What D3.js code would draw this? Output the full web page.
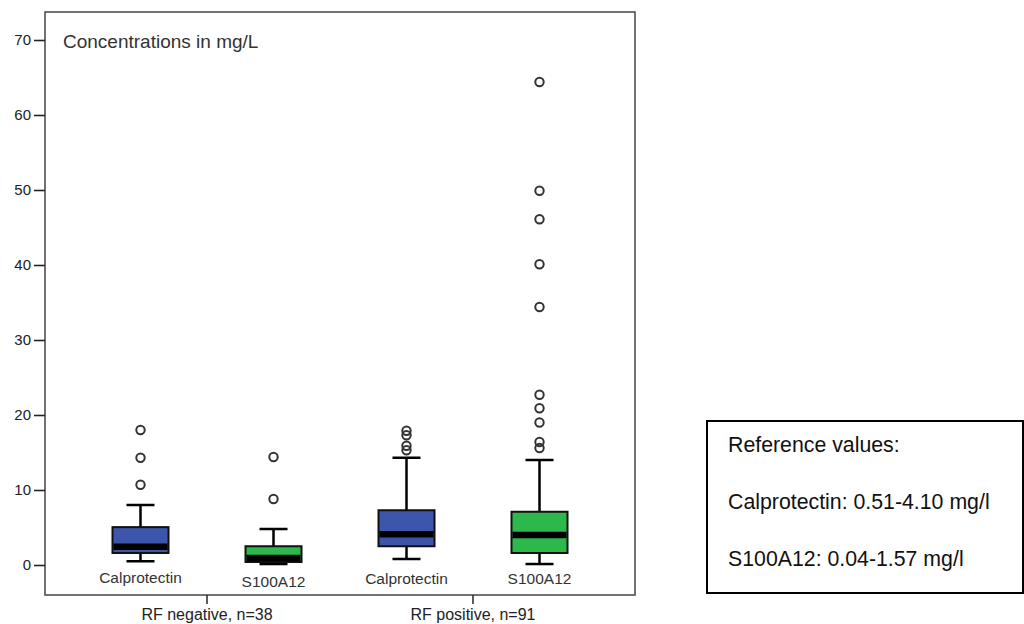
<!DOCTYPE html>
<html>
<head>
<meta charset="utf-8">
<script src="https://cdn.jsdelivr.net/npm/d3@7"></script>
<style>
  html, body { margin: 0; padding: 0; background: #fff; }
  svg { display: block; font-family: "Liberation Sans", Arial, sans-serif; }
</style>
</head>
<body>
<svg id="chart" width="1024" height="624"></svg>
<script>
// ---- data (mg/L) ----
const groups = ["RF negative, n=38", "RF positive, n=91"];
const markers = ["Calprotectin", "S100A12"];
const boxGroup   = ["RF negative, n=38", "RF negative, n=38", "RF positive, n=91", "RF positive, n=91"];
const boxMarker  = ["Calprotectin", "S100A12", "Calprotectin", "S100A12"];
const whiskerLow = [0.5, 0.13, 0.8, 0.13];
const q1         = [1.6, 0.4, 2.5, 1.6];
const median     = [2.45, 0.95, 4.1, 4.0];
const q3         = [5.05, 2.5, 7.3, 7.1];
const whiskerHigh= [8.0, 4.8, 14.3, 14.0];
const outliers = [
  [18.0, 14.3, 10.7],
  [14.4, 8.8],
  [17.9, 17.3, 15.9, 15.3],
  [64.4, 49.9, 46.1, 40.1, 34.4, 22.7, 20.9, 19.0, 16.4, 15.6]
];
const yTicks = [0, 10, 20, 30, 40, 50, 60, 70];
const title = "Concentrations in mg/L";
const refLines = ["Reference values:", "Calprotectin: 0.51-4.10 mg/l", "S100A12: 0.04-1.57 mg/l"];
const colors = { "Calprotectin": "#3b56aa", "S100A12": "#2cb84b" };

// ---- layout ----
const svg = d3.select("#chart");
const frame = { left: 45, top: 12, right: 635, bottom: 595 };

const y = d3.scaleLinear().domain([0, 70]).range([565, 40]);
const xOuter = d3.scaleBand().domain(groups).range([74, 606]);
const xInner = d3.scalePoint().domain(markers).range([0, xOuter.bandwidth()]).padding(0.5);
const cx = i => xOuter(boxGroup[i]) + xInner(boxMarker[i]);
const boxW = 56, capW = 28;

// frame
svg.append("rect")
  .attr("x", frame.left).attr("y", frame.top)
  .attr("width", frame.right - frame.left).attr("height", frame.bottom - frame.top)
  .attr("fill", "#fff").attr("stroke", "#444").attr("stroke-width", 1.5);

// y axis
const yAxis = svg.append("g")
  .attr("transform", `translate(${frame.left},0)`)
  .call(d3.axisLeft(y).tickValues(yTicks).tickSize(11).tickPadding(3).tickFormat(d3.format("d")));
yAxis.select(".domain").remove();
yAxis.selectAll(".tick line").attr("stroke", "#222").attr("stroke-width", 1.6);
yAxis.selectAll(".tick text").attr("fill", "#222").style("font-size", "15px")
  .style("font-family", "'Liberation Sans', Arial, sans-serif");

// x axis (group ticks)
const xAxis = svg.append("g")
  .attr("transform", `translate(0,${frame.bottom})`)
  .call(d3.axisBottom(xOuter).tickSize(9).tickPadding(5));
xAxis.select(".domain").remove();
xAxis.selectAll(".tick line").attr("stroke", "#333").attr("stroke-width", 1.6);
xAxis.selectAll(".tick text").attr("fill", "#222").style("font-size", "16px")
  .style("font-family", "'Liberation Sans', Arial, sans-serif");

// title inside plot
svg.append("text").attr("x", 63).attr("y", 48)
  .attr("fill", "#333").style("font-size", "19px").text(title);

// boxes
const idx = d3.range(boxGroup.length);
const g = svg.append("g");
idx.forEach(i => {
  const c = cx(i);
  g.append("line").attr("x1", c).attr("x2", c)
    .attr("y1", y(whiskerLow[i])).attr("y2", y(whiskerHigh[i]))
    .attr("stroke", "#000").attr("stroke-width", 2.5);
  [whiskerLow[i], whiskerHigh[i]].forEach(v => {
    g.append("line").attr("x1", c - capW / 2).attr("x2", c + capW / 2)
      .attr("y1", y(v)).attr("y2", y(v))
      .attr("stroke", "#000").attr("stroke-width", 2.5);
  });
  g.append("rect").attr("x", c - boxW / 2).attr("y", y(q3[i]))
    .attr("width", boxW).attr("height", y(q1[i]) - y(q3[i]))
    .attr("fill", colors[boxMarker[i]]).attr("stroke", "#111").attr("stroke-width", 2);
  g.append("line").attr("x1", c - boxW / 2 + 1).attr("x2", c + boxW / 2 - 1)
    .attr("y1", y(median[i])).attr("y2", y(median[i]))
    .attr("stroke", "#000").attr("stroke-width", 6.5);
  outliers[i].forEach(v => {
    g.append("circle").attr("cx", c).attr("cy", y(v)).attr("r", 4.2)
      .attr("fill", "none").attr("stroke", "#333").attr("stroke-width", 2);
  });
});

// box labels
const labelY = [583, 587, 584, 584];
idx.forEach(i => {
  svg.append("text").attr("x", cx(i)).attr("y", labelY[i])
    .attr("text-anchor", "middle").attr("fill", "#333")
    .style("font-size", "15.5px").text(boxMarker[i]);
});

// reference box
svg.append("rect").attr("x", 707).attr("y", 421).attr("width", 316).attr("height", 172)
  .attr("fill", "#fff").attr("stroke", "#000").attr("stroke-width", 2);
const refY = [452, 509, 566];
refLines.forEach((t, i) => {
  svg.append("text").attr("x", 728).attr("y", refY[i])
    .attr("fill", "#111").style("font-size", "21.3px").text(t);
});
</script>
</body>
</html>
